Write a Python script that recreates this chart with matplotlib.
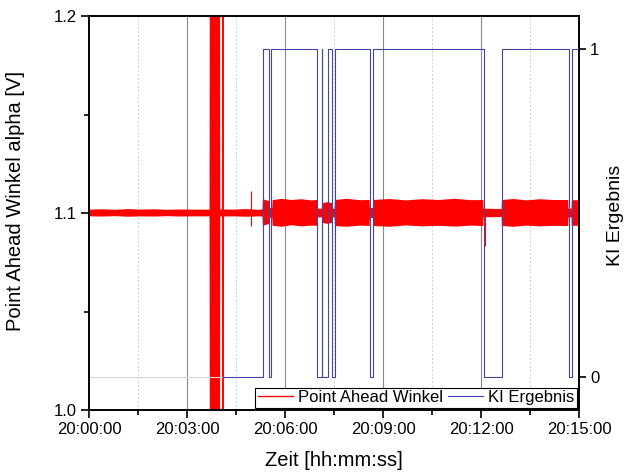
import matplotlib
matplotlib.use("Agg")
import matplotlib.pyplot as plt
from matplotlib.ticker import FixedLocator
from matplotlib.lines import Line2D

plt.rcParams['font.family'] = ['Liberation Sans', 'DejaVu Sans']

# Time axis in minutes after 20:00:00
x_major = [0, 3, 6, 9, 12, 15]
x_minor = [1.5, 4.5, 7.5, 10.5, 13.5]
x_labels = ["20:00:00", "20:03:00", "20:06:00", "20:09:00", "20:12:00", "20:15:00"]

# Point Ahead Winkel: envelope of the noisy voltage trace (min / max per knot)
pa_t = [0.00, 0.40, 0.80, 1.20, 1.60, 2.00, 2.40, 2.80, 3.20, 3.69,
        3.70, 4.01,
        4.02, 4.40, 4.80, 5.20, 5.31,
        5.32, 5.42, 5.52,
        5.53, 5.61,
        5.62, 5.90, 6.20, 6.50, 6.80, 6.98,
        6.99, 7.14,
        7.15, 7.30, 7.45,
        7.46, 7.52,
        7.53, 7.90, 8.30, 8.59,
        8.60, 8.69,
        8.70, 9.20, 9.70, 10.20, 10.70, 11.20, 11.70, 12.07,
        12.08, 12.63,
        12.64, 13.00, 13.40, 13.80, 14.20, 14.67,
        14.68, 14.77,
        14.78, 15.00]
pa_lo = [1.0983, 1.0982, 1.0984, 1.0981, 1.0983, 1.0982, 1.0984, 1.0982, 1.0983, 1.0983,
         0.9500, 0.9500,
         1.0982, 1.0983, 1.0981, 1.0983, 1.0982,
         1.0935, 1.0940, 1.0945,
         1.0975, 1.0975,
         1.0935, 1.0930, 1.0938, 1.0932, 1.0936, 1.0935,
         1.0978, 1.0978,
         1.0950, 1.0945, 1.0950,
         1.0978, 1.0978,
         1.0934, 1.0930, 1.0936, 1.0934,
         1.0975, 1.0975,
         1.0934, 1.0930, 1.0937, 1.0932, 1.0935, 1.0931, 1.0936, 1.0934,
         1.0978, 1.0980,
         1.0934, 1.0930, 1.0936, 1.0932, 1.0935, 1.0934,
         1.0978, 1.0978,
         1.0935, 1.0935]
pa_hi = [1.1017, 1.1019, 1.1016, 1.1020, 1.1017, 1.1019, 1.1016, 1.1018, 1.1017, 1.1017,
         1.2500, 1.2500,
         1.1018, 1.1017, 1.1020, 1.1016, 1.1018,
         1.1070, 1.1065, 1.1060,
         1.1025, 1.1025,
         1.1065, 1.1072, 1.1066, 1.1070, 1.1064, 1.1066,
         1.1022, 1.1022,
         1.1050, 1.1055, 1.1050,
         1.1022, 1.1022,
         1.1066, 1.1072, 1.1065, 1.1066,
         1.1025, 1.1025,
         1.1066, 1.1071, 1.1064, 1.1070, 1.1066, 1.1072, 1.1065, 1.1066,
         1.1022, 1.1020,
         1.1066, 1.1071, 1.1064, 1.1070, 1.1066, 1.1066,
         1.1022, 1.1022,
         1.1065, 1.1065]

# Isolated spikes in the voltage trace
spike_t = [4.09, 4.96, 12.12]
spike_lo = [0.95, 1.0935, 1.0830]
spike_hi = [1.25, 1.1110, 1.1000]

# KI Ergebnis: classifier output (0 / 1), step changes
ki_t = [4.10, 5.33, 5.51, 5.57, 6.99, 7.12, 7.14, 7.33, 7.44, 7.53,
        8.60, 8.69, 12.09, 12.64, 14.69, 14.79, 15.00]
ki_v = [0, 1, 0, 1, 0, 1, 0, 1, 0, 1,
        0, 1, 0, 1, 0, 1, 1]

red = '#ff0000'
blue = '#4444aa'

fig = plt.figure(figsize=(6.27, 4.74), dpi=100)
ax = fig.add_axes([89 / 627, 1 - 410 / 474, 490 / 627, 394 / 474])
ax2 = ax.twinx()

ax.set_xlim(0, 15)
ax.set_ylim(1.0, 1.2)
ax2.set_ylim(-0.1, 1.1)

# vertical grid
for t in x_major[1:-1]:
    ax.axvline(t, color='#8a8a8a', lw=0.8, zorder=0)
for t in x_minor:
    ax.axvline(t, color='#cfcfcf', lw=0.7, ls=(0, (2, 2)), zorder=0)

ax.fill_between(pa_t, pa_lo, pa_hi, color=red, lw=0, zorder=2)
ax.vlines(spike_t, spike_lo, spike_hi, color=red, lw=[1.4, 0.8, 0.8], zorder=2)

ax2.hlines(0, 0, ki_t[0], color='#d4d4d4', lw=0.8, zorder=0)
ax2.plot(ki_t, ki_v, drawstyle='steps-post', color=blue, lw=0.8, zorder=3)

# ticks and labels
ax.xaxis.set_major_locator(FixedLocator(x_major))
ax.xaxis.set_minor_locator(FixedLocator(x_minor))
ax.set_xticklabels(x_labels)
ax.set_yticks([1.0, 1.1, 1.2])
ax.set_yticklabels(["1.0", "1.1", "1.2"])
ax.yaxis.set_minor_locator(FixedLocator([1.05, 1.15]))
ax2.set_yticks([0, 1])
ax2.set_yticklabels(["0", "1"])
ax2.yaxis.set_minor_locator(FixedLocator([]))

ax.tick_params(which='major', direction='out', length=6, width=1.2, labelsize=12, pad=3)
ax.tick_params(which='minor', direction='out', length=3.5, width=1.2)
ax2.tick_params(which='major', direction='out', length=5, width=1.2, labelsize=12, pad=3)

for a in (ax, ax2):
    for s in a.spines.values():
        s.set_linewidth(1.2)
        s.set_color('black')

ax.set_xlabel("Zeit [hh:mm:ss]", fontsize=14.5, labelpad=10)
ax.set_ylabel("Point Ahead Winkel alpha [V]", fontsize=14.5)
ax.yaxis.set_label_coords(-0.131, 0.53)
ax2.set_ylabel("KI Ergebnis", fontsize=14, rotation=90)
ax2.yaxis.set_label_coords(1.058, 0.495)

handles = [Line2D([], [], color=red, lw=1.0), Line2D([], [], color=blue, lw=0.8)]
leg = ax2.legend(handles, ["Point Ahead Winkel", "KI Ergebnis"], loc='lower right',
                 ncol=2, fontsize=12, frameon=True, fancybox=False, framealpha=1,
                 edgecolor='black', borderpad=0.15, columnspacing=0.3,
                 handletextpad=0.3, handlelength=2.1, borderaxespad=0.15)
leg.get_frame().set_linewidth(0.8)

fig.savefig("out.png", dpi=100)
